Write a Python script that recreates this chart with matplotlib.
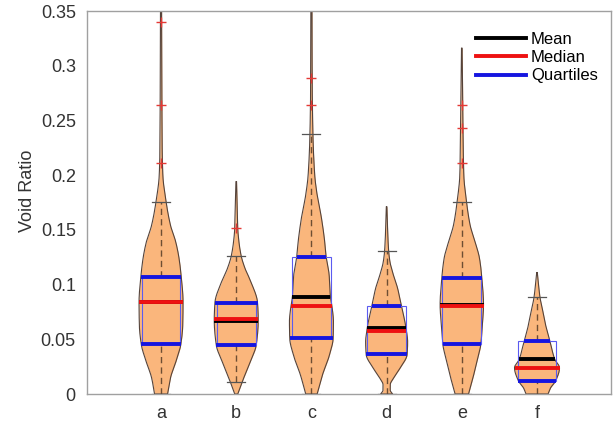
import numpy as np
import matplotlib
matplotlib.use("Agg")
import matplotlib.pyplot as plt
from matplotlib.lines import Line2D
from matplotlib.patches import Rectangle

plt.rcParams['font.family'] = ['Liberation Sans', 'DejaVu Sans']

# ---------------- data ----------------
categories = ['a', 'b', 'c', 'd', 'e', 'f']
means = [0.0845, 0.0667, 0.0889, 0.0600, 0.0818, 0.0317]
medians = [0.0840, 0.0685, 0.0804, 0.0580, 0.0808, 0.0240]
q1 = [0.0454, 0.0448, 0.0509, 0.0363, 0.0454, 0.0122]
q3 = [0.1072, 0.0835, 0.1255, 0.0807, 0.1063, 0.0481]
whisk_lo = [0.0, 0.0112, 0.0, 0.0, 0.0, 0.0]
whisk_hi = [0.1755, 0.1260, 0.2373, 0.1307, 0.1757, 0.0883]
outliers_a = [0.211, 0.264, 0.340]
outliers_b = [0.1514]
outliers_c = [0.264, 0.289]
outliers_d = []
outliers_e = [0.2114, 0.2434, 0.264]
outliers_f = []

# violin density profiles (value level, half-width in pixels of a 75 px category spacing)
prof_a_y = [0, 0.015, 0.030, 0.045, 0.063, 0.084, 0.109, 0.124, 0.139, 0.154, 0.176, 0.200, 0.22, 0.26, 0.30, 0.37]
prof_a_w = [6.5, 9.5, 15, 19.7, 21.7, 22, 20, 18, 14.7, 9.5, 5, 1.8, 1.2, 0.9, 0.7, 0.5]
prof_b_y = [0, 0.0112, 0.0295, 0.0448, 0.0676, 0.0835, 0.1025, 0.115, 0.126, 0.139, 0.1514, 0.17, 0.194]
prof_b_w = [1.5, 6, 14, 20, 22, 21.3, 14.7, 8.7, 5, 2.7, 1.5, 1.0, 0.3]
prof_c_y = [0, 0.0174, 0.0356, 0.0509, 0.066, 0.0804, 0.0889, 0.109, 0.1255, 0.139, 0.161, 0.182, 0.200, 0.237, 0.28, 0.37]
prof_c_w = [5.7, 11, 18, 21.7, 22, 20.5, 19, 17.7, 14.7, 13.3, 10, 5.7, 3.3, 1.5, 0.8, 0.5]
prof_d_y = [0, 0.0035, 0.0085, 0.0140, 0.0235, 0.0363, 0.0478, 0.0585, 0.066, 0.0807, 0.0966, 0.109, 0.121, 0.131, 0.15, 0.171]
prof_d_w = [6, 3.6, 3.6, 6.5, 13.3, 20.5, 21, 19.7, 18.3, 14.7, 11, 6.7, 3.3, 2, 1, 0.3]
prof_e_y = [0, 0.0143, 0.0295, 0.0454, 0.063, 0.0813, 0.1063, 0.124, 0.139, 0.1544, 0.1757, 0.200, 0.24, 0.28, 0.316]
prof_e_w = [6.7, 11, 15, 19, 20.5, 21.7, 20, 17.7, 13.3, 8.3, 4.7, 2, 1.2, 0.8, 0.3]
prof_f_y = [0, 0.0052, 0.0122, 0.024, 0.0317, 0.048, 0.0615, 0.0737, 0.0883, 0.100, 0.111]
prof_f_w = [11, 13.3, 18.7, 22.5, 17.8, 13, 9, 6.3, 3, 1.5, 0.3]

yticks = [0, 0.05, 0.1, 0.15, 0.2, 0.25, 0.3, 0.35]
ytick_labels = ['0', '0.05', '0.1', '0.15', '0.2', '0.25', '0.3', '0.35']
ylabel = 'Void Ratio'
legend_labels = ['Mean', 'Median', 'Quartiles']

profiles = [(prof_a_y, prof_a_w), (prof_b_y, prof_b_w), (prof_c_y, prof_c_w),
            (prof_d_y, prof_d_w), (prof_e_y, prof_e_w), (prof_f_y, prof_f_w)]
outliers = [outliers_a, outliers_b, outliers_c, outliers_d, outliers_e, outliers_f]

PX = 75.2  # pixels per category unit


def pchip(x, y, xn):
    x = np.asarray(x, float); y = np.asarray(y, float)
    h = np.diff(x); d = np.diff(y) / h
    n = len(x)
    m = np.zeros(n)
    for k in range(1, n - 1):
        if d[k - 1] * d[k] <= 0:
            m[k] = 0
        else:
            w1 = 2 * h[k] + h[k - 1]; w2 = h[k] + 2 * h[k - 1]
            m[k] = (w1 + w2) / (w1 / d[k - 1] + w2 / d[k])
    m[0] = d[0]; m[-1] = d[-1]
    idx = np.clip(np.searchsorted(x, xn) - 1, 0, n - 2)
    t = (xn - x[idx]) / h[idx]
    h00 = 2 * t**3 - 3 * t**2 + 1; h10 = t**3 - 2 * t**2 + t
    h01 = -2 * t**3 + 3 * t**2; h11 = t**3 - t**2
    return h00 * y[idx] + h10 * h[idx] * m[idx] + h01 * y[idx + 1] + h11 * h[idx] * m[idx + 1]


fig = plt.figure(figsize=(6.16, 4.25), dpi=100)
ax = fig.add_axes([0.1412, 0.0729, 0.8508, 0.9011])

violin_face = '#FAB67C'
violin_edge = '#55433a'
whisk_col = '#6e4e33'
box_w = 0.257
cap_w = 0.12
LW = 2.8

for i, cat in enumerate(categories):
    xc = i + 1
    py, pw = profiles[i]
    yy = np.linspace(py[0], py[-1], 500)
    ww = pchip(py, pw, yy) / PX
    ww = np.maximum(ww, 0.004)
    ax.fill_betweenx(yy, xc - ww, xc + ww, color=violin_face, zorder=1, lw=0)
    ax.plot(np.r_[xc - ww[::-1], xc + ww], np.r_[yy[::-1], yy], color=violin_edge, lw=0.8, zorder=2)

    # box plot overlay
    ax.add_patch(Rectangle((xc - box_w, q1[i]), 2 * box_w, q3[i] - q1[i], fill=False,
                           edgecolor='#5b5bf0', lw=0.8, zorder=3))
    ax.plot([xc, xc], [q3[i], whisk_hi[i]], color=whisk_col, lw=1.0, ls=(0, (4.5, 3)), zorder=3)
    ax.plot([xc, xc], [whisk_lo[i], q1[i]], color=whisk_col, lw=1.0, ls=(0, (4.5, 3)), zorder=3)
    for wv in (whisk_lo[i], whisk_hi[i]):
        ax.plot([xc - cap_w, xc + cap_w], [wv, wv], color='#555555', lw=0.9, zorder=3)
    if outliers[i]:
        ax.plot([xc] * len(outliers[i]), outliers[i], ls='none', marker='+', ms=7.5,
                mew=1.0, color='#e53935', zorder=4)

    # mean, median, quartile lines spanning violin width
    def seg(v, color):
        w = pchip(py, pw, np.array([v]))[0] / PX
        ax.plot([xc - w, xc + w], [v, v], color=color, lw=LW, zorder=5, solid_capstyle='butt')
    seg(q1[i], '#1515e0')
    seg(q3[i], '#1515e0')
    seg(means[i], 'black')
    seg(medians[i], '#ee1111')

ax.set_xlim(0.015, 6.985)
ax.set_ylim(0, 0.35)
ax.set_xticks(range(1, len(categories) + 1))
ax.set_xticklabels(categories)
ax.set_yticks(yticks)
ax.set_yticklabels(ytick_labels)
ax.tick_params(length=0, labelsize=13, colors='#333333', pad=8)
ax.set_ylabel(ylabel, fontsize=13, color='#333333', labelpad=6)
ax.yaxis.set_label_coords(-0.097, 0.53)
for s in ax.spines.values():
    s.set_color('#a0a0a0')
    s.set_linewidth(1.0)

handles = [Line2D([], [], color='black', lw=LW),
           Line2D([], [], color='#ee1111', lw=LW),
           Line2D([], [], color='#1515e0', lw=LW)]
ax.legend(handles, legend_labels, loc='upper right', frameon=False, fontsize=12,
          handlelength=3.0, handletextpad=0.3, labelspacing=0.2,
          bbox_to_anchor=(1.003, 0.985))

fig.savefig('out.png', dpi=100)
